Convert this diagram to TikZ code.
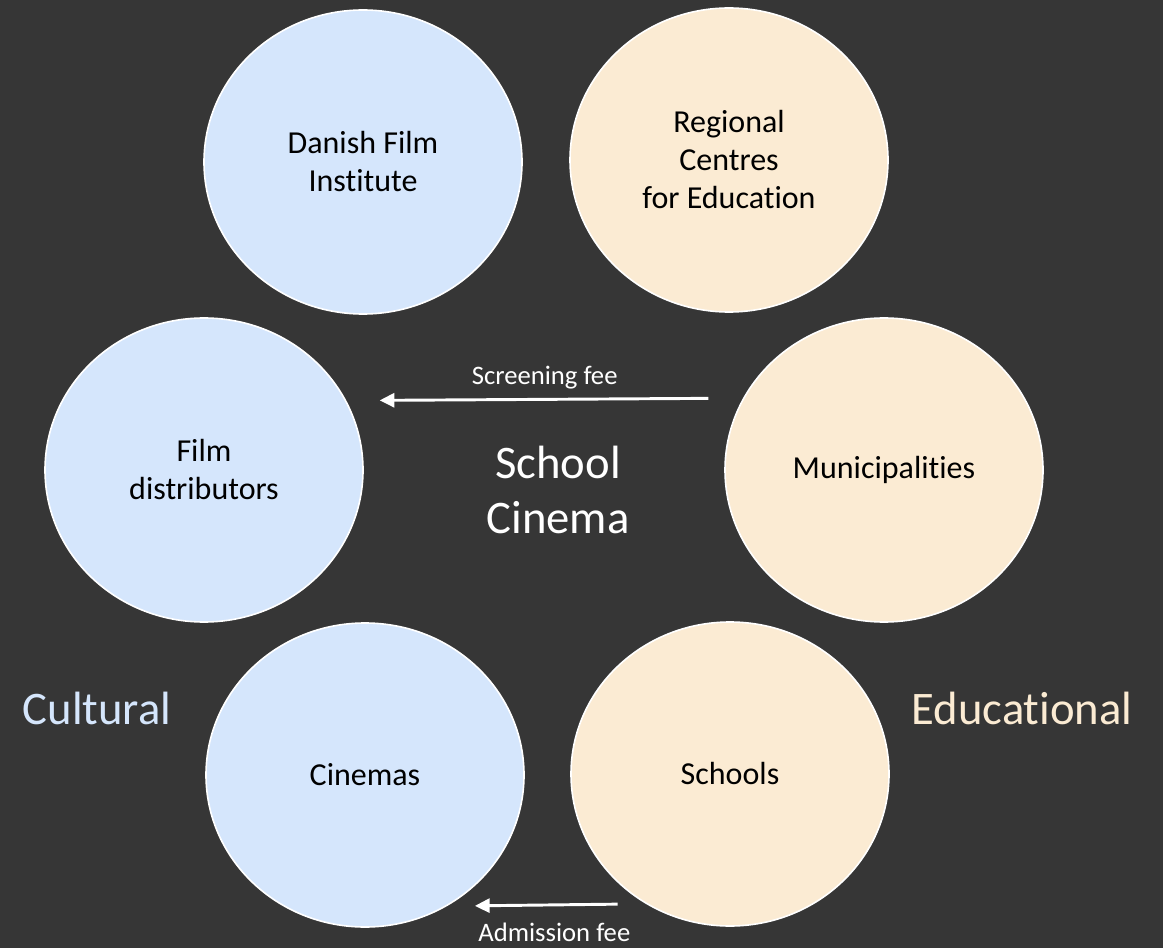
\documentclass[tikz,border=0pt]{standalone}
\usepackage{fontspec}
\setmainfont{Carlito}[Ligatures={NoCommon}]
\usetikzlibrary{shapes.geometric,arrows.meta}

\definecolor{bgdark}{HTML}{363636}
\definecolor{cultblue}{HTML}{D5E6FC}
\definecolor{edubeige}{HTML}{FBEBD3}

\begin{document}
\begin{tikzpicture}[x=0.75pt,y=-0.75pt,
    actor/.style={ellipse, draw=white, line width=1.2pt, minimum width=238.5pt,
      minimum height=228pt, inner sep=0pt, align=center, text=black,
      font=\fontsize{24}{28.5}\selectfont},
    fee/.style={draw=white, line width=2.2pt, -{Triangle[length=11pt,width=10.5pt]}},
    feelabel/.style={text=white, font=\fontsize{20}{24}\selectfont},
    sidelabel/.style={font=\fontsize{35}{41}\selectfont, align=center}]

        %Background
        \fill [bgdark] (0,0) rectangle (1163,948);
        \useasboundingbox (0,0) rectangle (1163,948);

        %Cultural side
        \node [actor, fill=cultblue] (dfi) at (363,162) {Danish Film\\Institute};
        \node [actor, fill=cultblue] (dist) at (204,470) {Film\\distributors};
        \node [actor, fill=cultblue] (cinemas) at (365,775) {Cinemas};

        %Educational side
        \node [actor, fill=edubeige] (centres) at (729,160) {Regional\\Centres\\for Education};
        \node [actor, fill=edubeige] (muni) at (884,470) {Municipalities};
        \node [actor, fill=edubeige] (schools) at (730,774) {Schools};

        %Titles
        \node [sidelabel, text=white] (title) at (558,490) {School\\Cinema};
        \node [sidelabel, text=cultblue] (cultural) at (97,708) {Cultural};
        \node [sidelabel, text=edubeige] (educational) at (1022,708) {Educational};

        %Money flows
        \draw [fee, shorten <=26pt, shorten >=25pt] (muni.153.3) -- (dist.26.7)
          node [feelabel, midway, above=3pt] {Screening fee};
        \draw [fee, shorten <=21pt, shorten >=21pt] (schools.237.8) -- (cinemas.302.2)
          node [feelabel, midway, below=9pt, xshift=6pt] {Admission fee};

\end{tikzpicture}
\end{document}
